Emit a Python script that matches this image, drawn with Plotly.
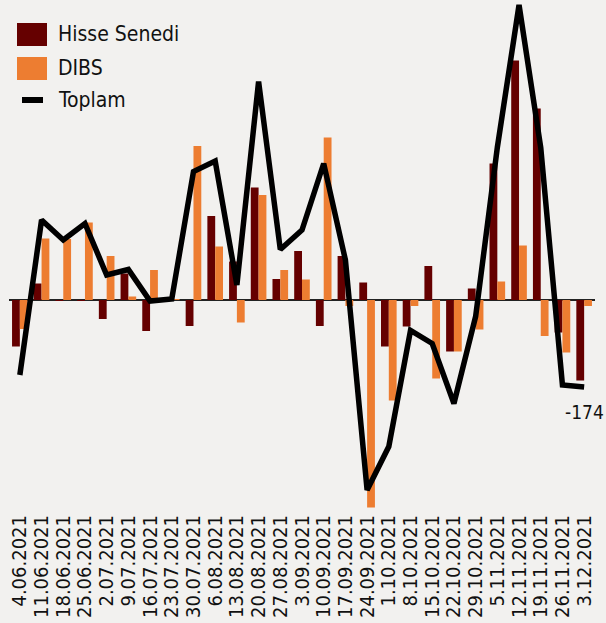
import plotly.graph_objects as go

categories = ["4.06.2021", "11.06.2021", "18.06.2021", "25.06.2021", "2.07.2021",
              "9.07.2021", "16.07.2021", "23.07.2021", "30.07.2021", "6.08.2021",
              "13.08.2021", "20.08.2021", "27.08.2021", "3.09.2021", "10.09.2021",
              "17.09.2021", "24.09.2021", "1.10.2021", "8.10.2021", "15.10.2021",
              "22.10.2021", "29.10.2021", "5.11.2021", "12.11.2021", "19.11.2021",
              "26.11.2021", "3.12.2021"]

hisse = [-93, 33, -2, -2, -38, 53, -62, 0, -52, 168, 77, 225, 42, 98, -52,
         88, 35, -93, -53, 68, -103, 23, 273, 479, 383, -65, -161]
dibs = [-58, 123, 122, 155, 88, 7, 60, 2, 308, 107, -45, 210, 60, 41, 325,
        -12, -415, -201, -12, -157, -103, -59, 37, 109, -72, -105, -12]
toplam = [-150, 160, 120, 153, 50, 61, -2, 2, 257, 278, 30, 437, 101, 140, 273,
          80, -380, -293, -61, -87, -207, -33, 305, 590, 305, -170, -174]

series_names = ["Hisse Senedi", "DIBS", "Toplam"]
colors = ["#650000", "#ED7D31", "#000000"]
BG = "#f2f1ef"

W, H = 606, 623
ML, MR, MT, MB = 9, 11, 0, 113
PW, PH = W - ML - MR, H - MT - MB
FONT = "DejaVu Sans Condensed, DejaVu Sans"


def px(x):
    return (x - ML) / PW


def py(y):
    return 1 - (y - MT) / PH


fig = go.Figure()
fig.add_trace(go.Bar(x=categories, y=hisse, name=series_names[0],
                     marker=dict(color=colors[0], line=dict(width=0))))
fig.add_trace(go.Bar(x=categories, y=dibs, name=series_names[1],
                     marker=dict(color=colors[1], line=dict(width=0))))
fig.add_trace(go.Scatter(x=categories, y=toplam, name=series_names[2], mode="lines",
                         line=dict(color=colors[2], width=5.5)))

# custom legend
shapes = [
    dict(type="rect", xref="paper", yref="paper", x0=px(17), x1=px(47), y0=py(46), y1=py(23),
         fillcolor=colors[0], line=dict(width=0)),
    dict(type="rect", xref="paper", yref="paper", x0=px(17), x1=px(47), y0=py(80), y1=py(57),
         fillcolor=colors[1], line=dict(width=0)),
    dict(type="line", xref="paper", yref="paper", x0=px(22), x1=px(43), y0=py(100), y1=py(100),
         line=dict(color=colors[2], width=6)),
]
annotations = []
for name, yc in zip(series_names, [34, 68, 100]):
    annotations.append(dict(xref="paper", yref="paper", x=px(56), y=py(yc), text=name,
                            showarrow=False, xanchor="left", yanchor="middle",
                            font=dict(family=FONT, size=21, color="#111111")))

annotations.append(dict(x=categories[-1], y=toplam[-1], text=str(toplam[-1]), showarrow=False,
                        xanchor="center", yanchor="top", yshift=-12,
                        font=dict(family=FONT, size=19, color="#111111")))

fig.update_layout(
    width=W, height=H, autosize=False,
    margin=dict(l=ML, r=MR, t=MT, b=MB),
    paper_bgcolor=BG, plot_bgcolor=BG,
    barmode="group", bargap=0.28, bargroupgap=0,
    showlegend=False,
    shapes=shapes, annotations=annotations,
    font=dict(family=FONT, color="#111111"),
)
fig.update_xaxes(type="category", range=[-0.5, len(categories) - 0.5],
                 tickmode="array", tickvals=categories, ticktext=categories,
                 tickangle=-90, tickfont=dict(family=FONT, size=20, color="#111111"),
                 automargin=False, showgrid=False, showline=False, ticks="", zeroline=False)
fig.update_yaxes(range=[-420, 600], showgrid=False, showticklabels=False, ticks="",
                 automargin=False, zeroline=True, zerolinecolor="#222222", zerolinewidth=1.5,
                 showline=False)

post = (
    "document.body.style.margin='0';"
    "document.body.style.overflow='hidden';"
    "document.body.style.background='" + BG + "';"
)
fig.write_html("out.html", post_script=post,
               config={"displayModeBar": False, "staticPlot": True})
